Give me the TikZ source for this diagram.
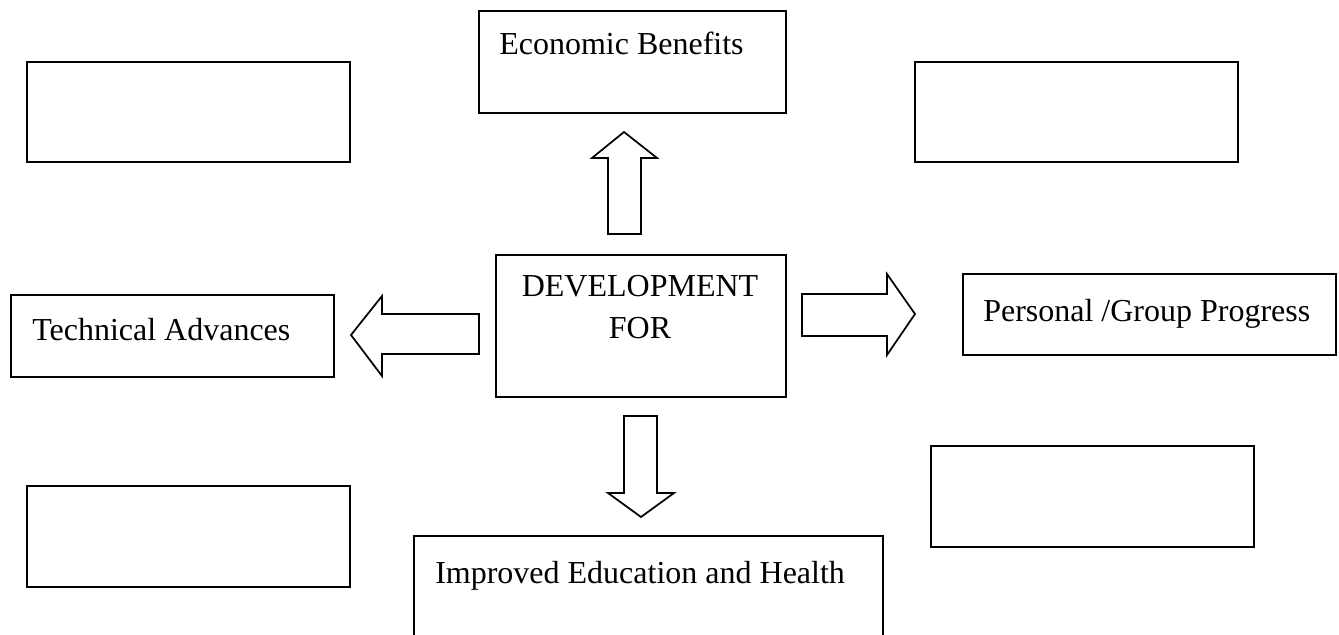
\documentclass[tikz,border=0pt]{standalone}
\usepackage{fontspec}
\setmainfont{Liberation Serif}
\usetikzlibrary{fit}
\begin{document}
\begin{tikzpicture}[x=0.75pt,y=-0.75pt,
  box/.style={draw=black, line width=1.2pt, inner sep=0pt, fill=none},
  label/.style={anchor=base west, inner sep=0pt, font=\fontsize{24}{29}\selectfont},
  blockarrow/.style={draw=black, line width=1.3pt, line join=miter, fill=white}]
\useasboundingbox (0,0) rectangle (1339,635);
\fill[white] (0,0) rectangle (1339,635);

% boxes
\node[box, fit={(27,62) (350,162)}] (tl) {};
\node[box, fit={(479,11) (786,113)}] (eco) {};
\node[box, fit={(915,62) (1238,162)}] (tr) {};
\node[box, fit={(496,255) (786,397)}] (dev) {};
\node[box, fit={(11,295) (334,377)}] (tech) {};
\node[box, fit={(963,274) (1336,355)}] (pers) {};
\node[box, fit={(27,486) (350,587)}] (bl) {};
\node[box, fit={(931,446) (1254,547)}] (br) {};
\node[box, fit={(414,536) (883,680)}] (imp) {};

% labels
\node[label] (ecotext) at (499,55) {Economic Benefits};
\node[label, anchor=base] (devtext1) at (640,296) {DEVELOPMENT};
\node[label, anchor=base] (devtext2) at (640,338) {FOR};
\node[label] (techtext) at (32,340) {Technical Advances};
\node[label] (perstext) at (983,321) {Personal /Group Progress};
\node[label] (imptext) at (435,583) {Improved Education and Health};

% block arrows
\draw[blockarrow] (608,234) -- (608,158) -- (592,158) -- (624,132) -- (657,158)
  -- (641,158) -- (641,234) -- cycle;
\draw[blockarrow] (479,314) -- (382,314) -- (382,296) -- (351,335) -- (382,376)
  -- (382,354) -- (479,354) -- cycle;
\draw[blockarrow] (802,294) -- (887,294) -- (887,274) -- (915,314) -- (887,355)
  -- (887,336) -- (802,336) -- cycle;
\draw[blockarrow] (624,416) -- (657,416) -- (657,493) -- (674,493) -- (641,517)
  -- (608,493) -- (624,493) -- cycle;
\end{tikzpicture}
\end{document}
